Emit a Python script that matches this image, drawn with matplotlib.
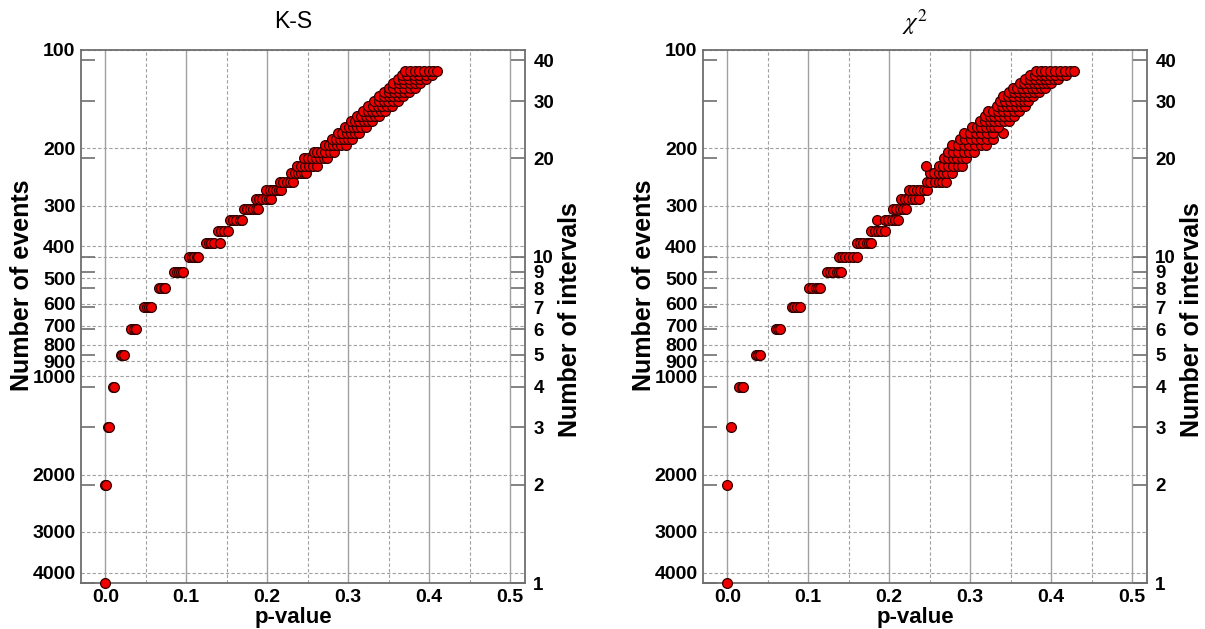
import matplotlib
matplotlib.use("Agg")
import matplotlib.pyplot as plt
from matplotlib.ticker import FixedLocator, NullLocator
import numpy as np

plt.rcParams['font.family'] = ['Liberation Sans', 'DejaVu Sans']

# total number of events, so that events per interval = n_total / intervals
n_total = 4300

event_ticks = [100, 200, 300, 400, 500, 600, 700, 800, 900, 1000, 2000, 3000, 4000]
interval_ticks = [1, 2, 3, 4, 5, 6, 7, 8, 9, 10, 20, 30, 40]
p_ticks = [0.0, 0.1, 0.2, 0.3, 0.4, 0.5]
p_minor = [0.05, 0.15, 0.25, 0.35, 0.45]

# p-values for each number of intervals (row i -> i+1 intervals)
ks_rows = [
    [0.000],
    [0.000, 0.001],
    [0.003, 0.004],
    [0.009, 0.011],
    [0.019, 0.021, 0.023],
    [0.032, 0.035, 0.038],
    [0.048, 0.051, 0.054, 0.056],
    [0.066, 0.069, 0.072, 0.074],
    [0.085, 0.088, 0.091, 0.094, 0.096],
    [0.104, 0.107, 0.110, 0.113, 0.115],
    [0.125, 0.128, 0.131, 0.134, 0.142],
    [0.139, 0.143, 0.147, 0.151],
    [0.154, 0.158, 0.162, 0.166, 0.169],
    [0.171, 0.175, 0.179, 0.183, 0.186, 0.189],
    [0.186, 0.190, 0.194, 0.198, 0.202, 0.205],
    [0.199, 0.203, 0.207, 0.211, 0.214, 0.217],
    [0.216, 0.220, 0.224, 0.228, 0.232],
    [0.230, 0.234, 0.238, 0.242, 0.245, 0.248],
    [0.237, 0.242, 0.247, 0.252, 0.257, 0.262],
    [0.245, 0.250, 0.255, 0.260, 0.265, 0.270, 0.274],
    [0.258, 0.262, 0.267, 0.272, 0.277, 0.283],
    [0.272, 0.276, 0.281, 0.286, 0.291, 0.297],
    [0.280, 0.285, 0.290, 0.295, 0.300, 0.305],
    [0.288, 0.293, 0.298, 0.303, 0.308, 0.313],
    [0.296, 0.301, 0.306, 0.311, 0.316, 0.322],
    [0.304, 0.309, 0.314, 0.319, 0.325, 0.330],
    [0.311, 0.316, 0.322, 0.327, 0.333, 0.338],
    [0.318, 0.324, 0.329, 0.335, 0.340, 0.346],
    [0.325, 0.331, 0.337, 0.342, 0.348, 0.354],
    [0.332, 0.338, 0.344, 0.349, 0.355, 0.361],
    [0.338, 0.344, 0.350, 0.356, 0.362, 0.368],
    [0.344, 0.350, 0.357, 0.363, 0.369, 0.375],
    [0.350, 0.356, 0.363, 0.369, 0.376, 0.382],
    [0.356, 0.363, 0.369, 0.376, 0.382, 0.389],
    [0.361, 0.368, 0.375, 0.382, 0.389, 0.396],
    [0.366, 0.373, 0.381, 0.388, 0.396, 0.403],
    [0.370, 0.376, 0.382, 0.388, 0.394, 0.400, 0.405, 0.410],
]

chi2_rows = [
    [0.000],
    [0.000],
    [0.005],
    [0.015, 0.018, 0.020],
    [0.035, 0.038, 0.041],
    [0.060, 0.063, 0.065],
    [0.080, 0.083, 0.086, 0.090],
    [0.101, 0.105, 0.109, 0.112, 0.115],
    [0.123, 0.127, 0.131, 0.135, 0.138, 0.141],
    [0.138, 0.142, 0.146, 0.150, 0.155, 0.160],
    [0.160, 0.164, 0.168, 0.172, 0.175, 0.178],
    [0.178, 0.182, 0.186, 0.190, 0.195],
    [0.185, 0.195, 0.199, 0.203, 0.207, 0.211],
    [0.205, 0.209, 0.213, 0.217, 0.221],
    [0.215, 0.219, 0.223, 0.228, 0.232, 0.237],
    [0.225, 0.229, 0.234, 0.238, 0.243, 0.247],
    [0.247, 0.251, 0.256, 0.261, 0.265, 0.270],
    [0.250, 0.255, 0.261, 0.267, 0.272, 0.278],
    [0.246, 0.262, 0.267, 0.273, 0.279, 0.285, 0.290],
    [0.268, 0.273, 0.279, 0.284, 0.290, 0.295],
    [0.273, 0.279, 0.285, 0.292, 0.298, 0.305],
    [0.278, 0.285, 0.292, 0.299, 0.306, 0.313, 0.320],
    [0.287, 0.294, 0.301, 0.307, 0.314, 0.321, 0.328],
    [0.293, 0.300, 0.307, 0.314, 0.321, 0.328, 0.341],
    [0.302, 0.308, 0.314, 0.320, 0.326, 0.330, 0.335],
    [0.312, 0.318, 0.324, 0.330, 0.336, 0.342, 0.348],
    [0.318, 0.324, 0.330, 0.336, 0.342, 0.348, 0.354],
    [0.322, 0.328, 0.335, 0.341, 0.347, 0.354, 0.360],
    [0.333, 0.339, 0.345, 0.351, 0.357, 0.363, 0.368],
    [0.337, 0.343, 0.349, 0.355, 0.361, 0.367, 0.372],
    [0.341, 0.347, 0.353, 0.360, 0.366, 0.372, 0.378],
    [0.348, 0.354, 0.360, 0.367, 0.373, 0.379, 0.385],
    [0.353, 0.358, 0.364, 0.370, 0.376, 0.381, 0.387, 0.392],
    [0.362, 0.367, 0.373, 0.379, 0.384, 0.390, 0.395, 0.400],
    [0.368, 0.374, 0.380, 0.386, 0.392, 0.397, 0.403, 0.408],
    [0.374, 0.380, 0.387, 0.393, 0.399, 0.405, 0.412, 0.418],
    [0.381, 0.387, 0.393, 0.399, 0.405, 0.411, 0.417, 0.423, 0.428],
]

W, H = 1205, 629
fig = plt.figure(figsize=(W / 100, H / 100), dpi=100)

spine_col = "#6e6e6e"
grid_col = "#a0a0a0"
bold = dict(fontweight="bold", color="black")


def panel(left_px, rows, title, title_math=False):
    ax = fig.add_axes([left_px / W, (H - 583) / H, 444 / W, 533 / H])
    # events axis (left)
    ax.set_yscale("log")
    ax.set_ylim(n_total, 100)
    ax.yaxis.set_major_locator(FixedLocator(event_ticks))
    ax.yaxis.set_minor_locator(NullLocator())
    ax.set_yticklabels([str(v) for v in event_ticks], fontsize=14, **bold)
    ax.set_xlim(-0.03, 0.5185)
    ax.set_xticks(p_ticks)
    ax.set_xticks(p_minor, minor=True)
    ax.set_xticklabels(["%.1f" % v for v in p_ticks], fontsize=14, **bold)
    ax.tick_params(which="both", length=0, pad=4)
    ax.grid(axis="x", which="major", color=grid_col, lw=1.0, ls="-")
    ax.grid(axis="x", which="minor", color=grid_col, lw=0.8, ls=(0, (3, 2)))
    ax.grid(axis="y", which="major", color=grid_col, lw=0.8, ls=(0, (3, 2)))
    ax.set_axisbelow(True)
    for s in ax.spines.values():
        s.set_color(spine_col)
        s.set_linewidth(1.3)

    # intervals axis (right)
    ax2 = ax.twinx()
    ax2.set_yscale("log")
    ax2.set_ylim(1, n_total / 100)
    ax2.yaxis.set_major_locator(FixedLocator(interval_ticks))
    ax2.yaxis.set_minor_locator(NullLocator())
    ax2.set_yticklabels([str(v) for v in interval_ticks], fontsize=13.5, **bold)
    ax2.tick_params(which="both", direction="in", left=True, right=True,
                    labelleft=False, labelright=True, length=10, width=1.2,
                    color=spine_col, pad=6)
    ax2.axhline(10, color=grid_col, lw=0.8, ls=(0, (3, 2)), zorder=0)
    for s in ax2.spines.values():
        s.set_visible(False)

    xs, ys = [], []
    for i, row in enumerate(rows):
        for p in row:
            xs.append(p)
            ys.append(i + 1)
    ax2.scatter(xs, ys, s=50, c="#ee0000", edgecolors="#300000",
                linewidths=0.9, clip_on=False, zorder=3)

    cx = left_px + 212
    if title_math:
        fig.text(cx / W, 1 - 22 / H, title, ha="center", va="center",
                 fontsize=18, math_fontfamily="stix")
    else:
        fig.text(cx / W, 1 - 22 / H, title, ha="center", va="center", fontsize=16.5)
    fig.text(cx / W, 1 - 617 / H, "p-value", ha="center",
             va="center", fontsize=16, **bold)
    fig.text((left_px - 59) / W, 1 - 285 / H, "Number of events", rotation=90,
             ha="center", va="center", fontsize=18, **bold)
    fig.text((left_px + 489) / W, 1 - 320 / H, "Number of intervals",
             rotation=90, ha="center", va="center", fontsize=18, **bold)


panel(81, ks_rows, "K-S")
panel(703, chi2_rows, r"$\chi^2$", title_math=True)

fig.savefig("out.png", dpi=100)
